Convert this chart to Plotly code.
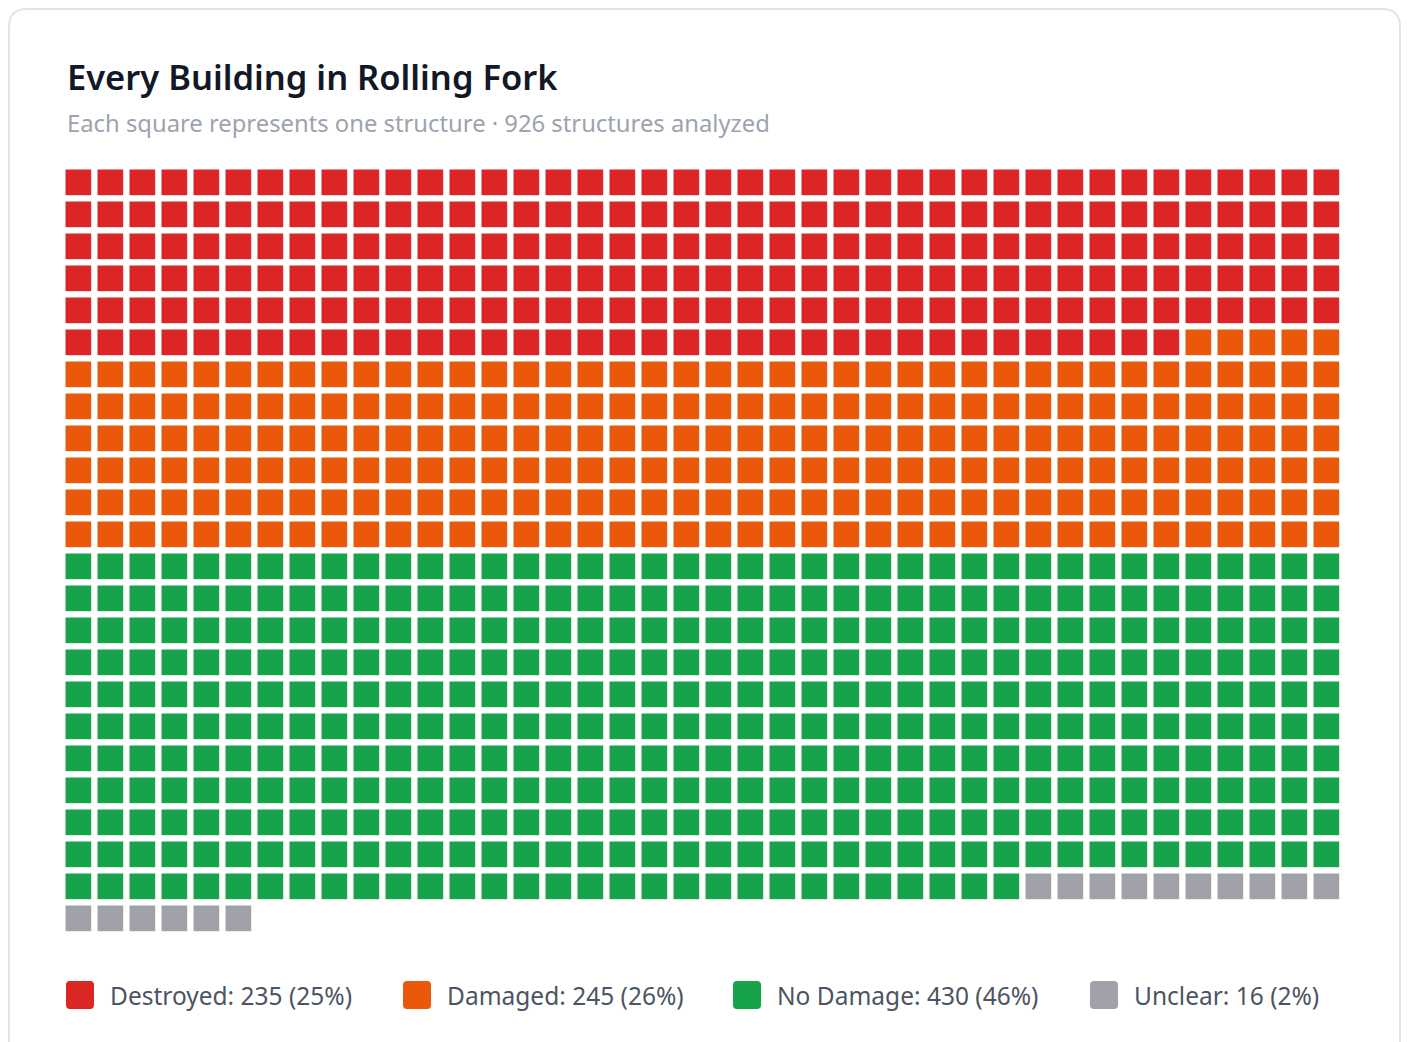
import plotly.graph_objects as go

# ========================= DATA =========================
CATEGORIES = ["Destroyed", "Damaged", "No Damage", "Unclear"]
COUNTS = [235, 245, 430, 16]
COLORS = ["#dc2626", "#ea580c", "#16a34a", "#a1a1aa"]
N_COLS = 40
TITLE = "Every Building in Rolling Fork"
SUBTITLE = "Each square represents one structure · {total} structures analyzed"
# ========================================================

OFF = 8             # the page body has an 8px margin; keep the figure inside the window
W, H = 1410 - OFF, 1042 - OFF
FONT = "Noto Sans"
PITCH = 32.0        # px per grid unit
SQ = 25.7           # square side, px
GRID_LEFT, GRID_TOP = 65.5, 169.5
MARGIN = dict(l=int(GRID_LEFT - OFF), r=60, t=int(GRID_TOP - OFF), b=90)

plot_w = W - MARGIN["l"] - MARGIN["r"]
plot_h = H - MARGIN["t"] - MARGIN["b"]


def px_x(px):
    """page pixel x -> paper x"""
    return (px - OFF - MARGIN["l"]) / plot_w


def px_y(py):
    """page pixel y -> paper y"""
    return (H - MARGIN["b"] - (py - OFF)) / plot_h


def rounded_rect(x0, y0, x1, y1, r):
    """SVG path of a rounded rect in paper coords, page pixel inputs"""
    X = px_x
    Y = px_y
    return (
        f"M {X(x0 + r)},{Y(y0)} L {X(x1 - r)},{Y(y0)} Q {X(x1)},{Y(y0)} {X(x1)},{Y(y0 + r)} "
        f"L {X(x1)},{Y(y1 - r)} Q {X(x1)},{Y(y1)} {X(x1 - r)},{Y(y1)} "
        f"L {X(x0 + r)},{Y(y1)} Q {X(x0)},{Y(y1)} {X(x0)},{Y(y1 - r)} "
        f"L {X(x0)},{Y(y0 + r)} Q {X(x0)},{Y(y0)} {X(x0 + r)},{Y(y0)} Z"
    )


total = sum(COUNTS)
fig = go.Figure()

# one marker per structure, filled row by row
start = 0
for name, count, color in zip(CATEGORIES, COUNTS, COLORS):
    idx = list(range(start, start + count))
    start += count
    fig.add_trace(go.Scatter(
        x=[k % N_COLS for k in idx],
        y=[k // N_COLS for k in idx],
        mode="markers",
        name=name,
        marker=dict(symbol="square", size=SQ, color=color, line=dict(width=0)),
        hovertemplate=f"{name}<extra></extra>",
        showlegend=False,
    ))

# axis ranges so that one unit = PITCH px and the first square edge sits at GRID_LEFT/GRID_TOP
x0 = -((GRID_LEFT - OFF - MARGIN["l"]) + SQ / 2) / PITCH
y0 = -((GRID_TOP - OFF - MARGIN["t"]) + SQ / 2) / PITCH

# card outline (kept inside the visible part of the page)
shapes = [dict(
    type="path", xref="paper", yref="paper", layer="below",
    path=rounded_rect(9, 9, 1400, 1090, 18),
    line=dict(color="#e4e4e7", width=2), fillcolor="white",
)]
annotations = [
    dict(text=TITLE, x=px_x(65), y=px_y(76), xref="paper", yref="paper",
         xanchor="left", yanchor="middle", showarrow=False,
         font=dict(family=FONT, size=34.5, color="#111827", weight=600)),
    dict(text=SUBTITLE.format(total=total), x=px_x(65), y=px_y(123), xref="paper", yref="paper",
         xanchor="left", yanchor="middle", showarrow=False,
         font=dict(family=FONT, size=23.8, color="#9ca3af")),
]

# custom legend
legend_x = [66, 403, 733, 1090]
for name, count, color, lx in zip(CATEGORIES, COUNTS, COLORS, legend_x):
    shapes.append(dict(
        type="path", xref="paper", yref="paper",
        path=rounded_rect(lx, 981, lx + 28, 1009, 4),
        line=dict(width=0), fillcolor=color,
    ))
    pct = round(100 * count / total)
    annotations.append(dict(
        text=f"{name}: {count} ({pct}%)", x=px_x(lx + 42), y=px_y(995.5),
        xref="paper", yref="paper", xanchor="left", yanchor="middle", showarrow=False,
        font=dict(family=FONT, size=24.5, color="#4b5563"),
    ))

fig.update_layout(
    width=W, height=H,
    margin=MARGIN,
    paper_bgcolor="white", plot_bgcolor="white",
    xaxis=dict(range=[x0, x0 + plot_w / PITCH], visible=False, fixedrange=True),
    yaxis=dict(range=[y0 + plot_h / PITCH, y0], visible=False, fixedrange=True),
    shapes=shapes,
    annotations=annotations,
    showlegend=False,
)

fig.write_html("out.html")
